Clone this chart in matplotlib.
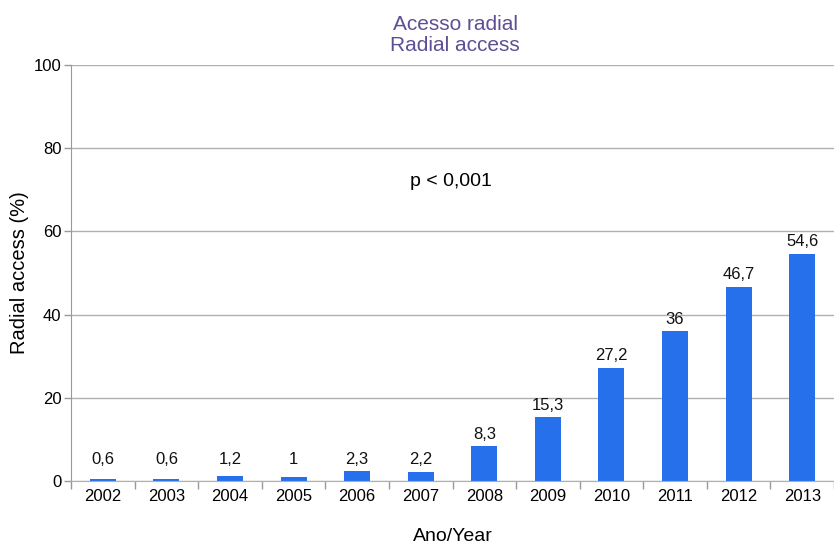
import matplotlib
matplotlib.use("Agg")
import matplotlib.pyplot as plt

years = ["2002", "2003", "2004", "2005", "2006", "2007", "2008", "2009", "2010", "2011", "2012", "2013"]
values = [0.6, 0.6, 1.2, 1.0, 2.3, 2.2, 8.3, 15.3, 27.2, 36.0, 46.7, 54.6]
labels = ["0,6", "0,6", "1,2", "1", "2,3", "2,2", "8,3", "15,3", "27,2", "36", "46,7", "54,6"]
yticks = [0, 20, 40, 60, 80, 100]

plt.rcParams['font.family'] = ['Liberation Sans', 'DejaVu Sans']

fig = plt.figure(figsize=(8.34, 5.44), dpi=100)
W, H = 834, 544
ax = fig.add_axes([71 / W, 1 - 481 / H, (834 - 71) / W, (481 - 65) / H])

x = list(range(len(years)))
ax.bar(x, values, width=0.41, color="#2670ec", zorder=3)
for xi, v, lab in zip(x, values, labels):
    ax.text(xi, max(v + 1.1, 3.3), lab, ha="center", va="bottom", fontsize=12, color="#111111")

ax.set_ylim(0, 100)
ax.set_xlim(-0.5, (834 - 71) / 64.3 - 0.5)
ax.set_yticks(yticks)
ax.set_yticklabels([str(t) for t in yticks], fontsize=12)
ax.yaxis.grid(True, color="#b0b0b0", linewidth=1, zorder=0)

ax.set_xticks(x)
ax.set_xticklabels(years, fontsize=12)
ax.tick_params(axis="x", length=0, pad=6)
ax.set_xticks([i - 0.5 for i in range(len(years) + 1)], minor=True)
ax.tick_params(axis="x", which="minor", length=6, color="#999999", width=1)
ax.tick_params(axis="y", length=5, color="#999999", width=1, pad=2)

for s in ["top", "right"]:
    ax.spines[s].set_visible(False)
ax.spines["left"].set_color("#999999")
ax.spines["bottom"].set_color("#b0b0b0")
ax.spines["bottom"].set_zorder(4)

ax.text(5.47, 72, "p < 0,001", ha="center", va="center", fontsize=14)

ax.set_xlabel("Ano/Year", fontsize=14, labelpad=17)
ax.set_ylabel("Radial access (%)", fontsize=14.5, labelpad=3)

fig.text(455 / W, 1 - 35 / H, "Acesso radial\nRadial access", ha="center", va="center",
         fontsize=15, color="#5e4f94", linespacing=1.1)

fig.savefig("out.png", dpi=100)
